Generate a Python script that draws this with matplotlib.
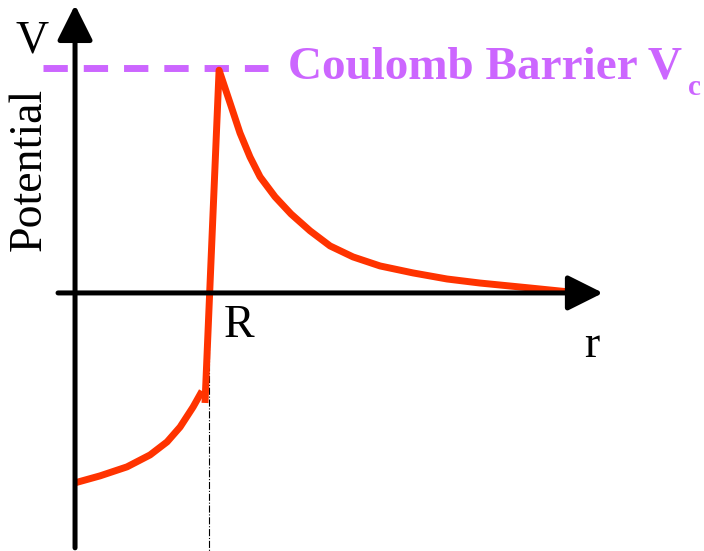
import numpy as np
import matplotlib.pyplot as plt

# potential inside the nucleus (r < R)
r_in = [0.0, 0.187, 0.388, 0.56, 0.687, 0.784, 0.881, 0.948]
v_in = [-0.844, -0.813, -0.773, -0.72, -0.662, -0.596, -0.507, -0.436]

# jump at R up to the barrier, then Coulomb tail
r_out = [0.97, 1.075, 1.157, 1.231, 1.306, 1.381, 1.493, 1.612, 1.754, 1.903,
         2.075, 2.276, 2.522, 2.776, 3.022, 3.396, 3.694]
v_out = [-0.489, 0.99, 0.844, 0.711, 0.604, 0.516, 0.427, 0.351, 0.276, 0.209,
         0.160, 0.120, 0.089, 0.062, 0.044, 0.022, 0.004]

R = 1.0
Vc = 1.0

red = '#ff3300'
purple = '#cc66ff'
serif = 'Liberation Serif'

fig = plt.figure(figsize=(7.04, 5.51), dpi=100)
ax = fig.add_axes([0, 0, 1, 1])
ax.set_xlim(-0.56, 4.694)
ax.set_ylim(-1.147, 1.302)
ax.axis('off')

# axes with arrows
arrow = dict(arrowstyle='-|>,head_length=1.0,head_width=0.5', mutation_scale=21.6,
             lw=3.6, color='black', shrinkA=0, shrinkB=0)
ax.annotate('', xy=(0, 1.28), xytext=(0, -1.133), arrowprops=arrow)
ax.annotate('', xy=(3.94, 0), xytext=(-0.127, 0), arrowprops=arrow)

# R marker
ax.plot([R, R], [0, -1.2], color='black', lw=0.8, ls='-.')

# Coulomb barrier
ax.plot([-0.24, 1.44], [Vc, Vc], color=purple, lw=5, dashes=(3.5, 2.3))

ax.plot(r_in, v_in, color=red, lw=5, solid_capstyle='butt', solid_joinstyle='round')
ax.plot(r_out, v_out, color=red, lw=5, solid_capstyle='butt', solid_joinstyle='round')

ax.text(-0.32, 1.12, 'V', family=serif, fontsize=33, ha='center', va='center')
ax.text(-0.34, 0.55, 'Potential', family=serif, fontsize=33, rotation=90,
        ha='center', va='center')
ax.text(1.22, -0.145, 'R', family=serif, fontsize=33, ha='center', va='center')
ax.text(3.86, -0.235, 'r', family=serif, fontsize=33, ha='center', va='center')
ax.text(1.59, 1.0, 'Coulomb Barrier V', family=serif, fontsize=34,
        fontweight='bold', color=purple, ha='left', va='center')
ax.text(4.62, 0.915, 'c', family=serif, fontsize=21,
        fontweight='bold', color=purple, ha='center', va='center')

fig.savefig('out.png')
